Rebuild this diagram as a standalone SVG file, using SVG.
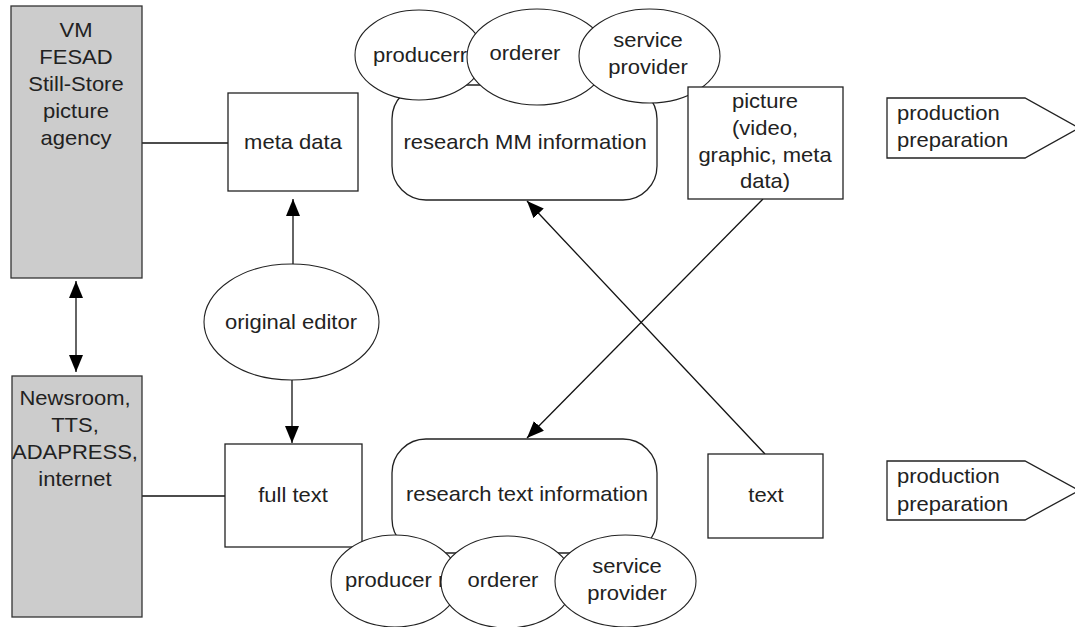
<svg xmlns="http://www.w3.org/2000/svg" width="1075" height="627" viewBox="0 0 1075 627">
  <style>
    .src { fill: #cccccc; stroke: #333333; stroke-width: 1.3; }
    .box { fill: #ffffff; stroke: #222222; stroke-width: 1.3; }
    .role { fill: #ffffff; stroke: #222222; stroke-width: 1.1; }
    .wire { fill: none; stroke: #111111; stroke-width: 1.3; }
    text { font-family: "Liberation Sans", Arial, sans-serif; font-size: 20px; fill: #222222; text-anchor: middle; }
    text.left { text-anchor: start; }
  </style>
  <defs>
    <marker id="head" markerUnits="userSpaceOnUse" markerWidth="17" markerHeight="14" refX="17" refY="7" orient="auto-start-reverse">
      <path d="M0,0 L17,7 L0,14 z" fill="#000000"/>
    </marker>
    <clipPath id="clip-news">
      <rect x="12" y="376" width="130" height="241"/>
    </clipPath>
  </defs>

  <!-- connectors -->
  <g id="connectors">
    <line class="wire" x1="142" y1="143" x2="228" y2="143"/>
    <line class="wire" x1="142" y1="496" x2="225" y2="496"/>
    <line class="wire" x1="76" y1="281" x2="76" y2="372" marker-start="url(#head)" marker-end="url(#head)"/>
    <line class="wire" x1="293" y1="264" x2="293" y2="199" marker-end="url(#head)"/>
    <line class="wire" x1="292" y1="380" x2="292" y2="443" marker-end="url(#head)"/>
    <line class="wire" x1="765" y1="454" x2="527" y2="201" marker-end="url(#head)"/>
    <line class="wire" x1="763" y1="199" x2="527" y2="438" marker-end="url(#head)"/>
  </g>

  <!-- picture sources -->
  <g id="picture-sources">
    <rect class="src" x="11" y="6" width="131" height="272"/>
    <g transform="translate(76 0) scale(1.1 1)">
      <text x="0" y="37">VM</text>
      <text x="0" y="64">FESAD</text>
      <text x="0" y="91">Still-Store</text>
      <text x="0" y="118">picture</text>
      <text x="0" y="145">agency</text>
    </g>
  </g>

  <!-- text sources -->
  <g id="text-sources">
    <rect class="src" x="12" y="376" width="130" height="241"/>
    <g clip-path="url(#clip-news)">
      <g transform="translate(75 0) scale(1.1 1)">
        <text x="0" y="405">Newsroom,</text>
        <text x="0" y="432">TTS,</text>
        <text x="0" y="459">ADAPRESS,</text>
        <text x="0" y="486">internet</text>
      </g>
    </g>
  </g>

  <!-- meta data -->
  <g id="meta-data">
    <rect class="box" x="228" y="93" width="130" height="98"/>
    <g transform="translate(293 0) scale(1.1 1)"><text x="0" y="149">meta data</text></g>
  </g>

  <!-- original editor -->
  <g id="original-editor">
    <ellipse class="role" cx="291.5" cy="322" rx="87.5" ry="58"/>
    <g transform="translate(291 0) scale(1.1 1)"><text x="0" y="329">original editor</text></g>
  </g>

  <!-- full text -->
  <g id="full-text">
    <rect class="box" x="225" y="444" width="137" height="103"/>
    <g transform="translate(293 0) scale(1.1 1)"><text x="0" y="502">full text</text></g>
  </g>

  <!-- research MM information with its roles -->
  <g id="research-mm">
    <rect class="box" x="392" y="85" width="265" height="115" rx="34" ry="34"/>
    <g transform="translate(525 0) scale(1.1 1)"><text x="0" y="149">research MM information</text></g>
  </g>
  <g id="mm-producer">
    <ellipse class="role" cx="419" cy="55" rx="64" ry="45"/>
    <g transform="translate(373 0) scale(1.1 1)"><text class="left" x="0" y="62">producerr</text></g>
  </g>
  <g id="mm-orderer">
    <ellipse class="role" cx="537" cy="57" rx="70" ry="48"/>
    <g transform="translate(525 0) scale(1.1 1)"><text x="0" y="60">orderer</text></g>
  </g>
  <g id="mm-service-provider">
    <ellipse class="role" cx="649.5" cy="56" rx="70.5" ry="47"/>
    <g transform="translate(648 0) scale(1.1 1)">
      <text x="0" y="47">service</text>
      <text x="0" y="74">provider</text>
    </g>
  </g>

  <!-- picture -->
  <g id="picture">
    <rect class="box" x="688" y="87" width="155" height="112"/>
    <g transform="translate(765 0) scale(1.1 1)">
      <text x="0" y="108">picture</text>
      <text x="0" y="135">(video,</text>
      <text x="0" y="162">graphic, meta</text>
      <text x="0" y="188">data)</text>
    </g>
  </g>

  <!-- research text information with its roles -->
  <g id="research-text">
    <rect class="box" x="392" y="439" width="265" height="114" rx="34" ry="34"/>
    <g transform="translate(527 0) scale(1.1 1)"><text x="0" y="501">research text information</text></g>
  </g>
  <g id="text-producer">
    <ellipse class="role" cx="395" cy="581" rx="64" ry="46"/>
    <g transform="translate(345 0) scale(1.1 1)"><text class="left" x="0" y="587">producer r</text></g>
  </g>
  <g id="text-orderer">
    <ellipse class="role" cx="507" cy="582" rx="66" ry="46"/>
    <g transform="translate(503 0) scale(1.1 1)"><text x="0" y="587">orderer</text></g>
  </g>
  <g id="text-service-provider">
    <ellipse class="role" cx="625.5" cy="581" rx="70.5" ry="46"/>
    <g transform="translate(627 0) scale(1.1 1)">
      <text x="0" y="573">service</text>
      <text x="0" y="600">provider</text>
    </g>
  </g>

  <!-- text -->
  <g id="text">
    <rect class="box" x="708" y="454" width="115" height="84"/>
    <g transform="translate(766 0) scale(1.1 1)"><text x="0" y="502">text</text></g>
  </g>

  <!-- production preparation -->
  <g id="production-preparation-mm">
    <polygon class="box" points="887,98 1025,98 1079,128 1025,158 887,158"/>
    <g transform="translate(897 0) scale(1.1 1)">
      <text class="left" x="0" y="120">production</text>
      <text class="left" x="0" y="147">preparation</text>
    </g>
  </g>
  <g id="production-preparation-text">
    <polygon class="box" points="887,461 1025,461 1079,490.5 1025,520 887,520"/>
    <g transform="translate(897 0) scale(1.1 1)">
      <text class="left" x="0" y="483">production</text>
      <text class="left" x="0" y="511">preparation</text>
    </g>
  </g>
</svg>
